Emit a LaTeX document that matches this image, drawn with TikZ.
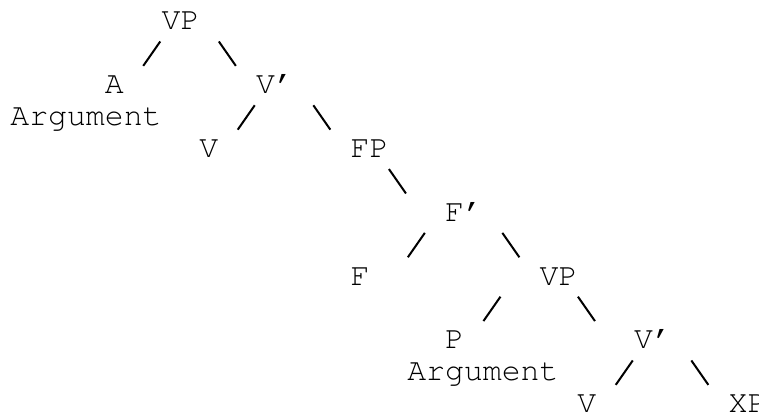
\documentclass[tikz,border=0pt]{standalone}
\usepackage[T1]{fontenc}
\usepackage{courier}
\usepackage{tikz}
\usetikzlibrary{calc}

% one slash from parent down to child, in the given column
\newcommand\lbranch[3]{\draw[branch] ($(#3+0.95,0 |- #1.base)+(0,0.36)$) -- ($(#3+0.05,0 |- #2.base)+(0,-0.875)$);}
\newcommand\rbranch[3]{\draw[branch] ($(#3+0.05,0 |- #1.base)+(0,0.36)$) -- ($(#3+0.95,0 |- #2.base)+(0,-0.875)$);}

\begin{document}
\begin{tikzpicture}[x=9.45pt, y=-15.95pt,
    lbl/.style = {anchor=base west, inner sep=0pt,
      font=\fontencoding{T1}\fontfamily{pcr}\fontsize{15.75pt}{15.75pt}\selectfont},
    branch/.style = {line width=1pt}]
    \useasboundingbox (-0.529,-0.94) rectangle (39.63,12.1);

    \node[lbl] (VPa) at (8,0) {VP};
    \node[lbl] (Aa) at (5,2) {A};
    \node[lbl] (Arga) at (0,3) {Argument};
    \node[lbl] (Vbara) at (13,2) {V'};
    \node[lbl] (Va) at (10,4) {V};
    \node[lbl] (FP) at (18,4) {FP};
    \node[lbl] (Fbar) at (23,6) {F'};
    \node[lbl] (F) at (18,8) {F};
    \node[lbl] (VPb) at (28,8) {VP};
    \node[lbl] (Pb) at (23,10) {P};
    \node[lbl] (Argb) at (21,11) {Argument};
    \node[lbl] (Vbarb) at (33,10) {V'};
    \node[lbl] (Vb) at (30,12) {V};
    \node[lbl] (XP) at (38,12) {XP};

    \lbranch{VPa}{Aa}{7}
    \rbranch{VPa}{Vbara}{11}
    \lbranch{Vbara}{Va}{12}
    \rbranch{Vbara}{FP}{16}
    \rbranch{FP}{Fbar}{20}
    \lbranch{Fbar}{F}{21}
    \rbranch{Fbar}{VPb}{26}
    \lbranch{VPb}{Pb}{25}
    \rbranch{VPb}{Vbarb}{30}
    \lbranch{Vbarb}{Vb}{32}
    \rbranch{Vbarb}{XP}{36}
\end{tikzpicture}
\end{document}
